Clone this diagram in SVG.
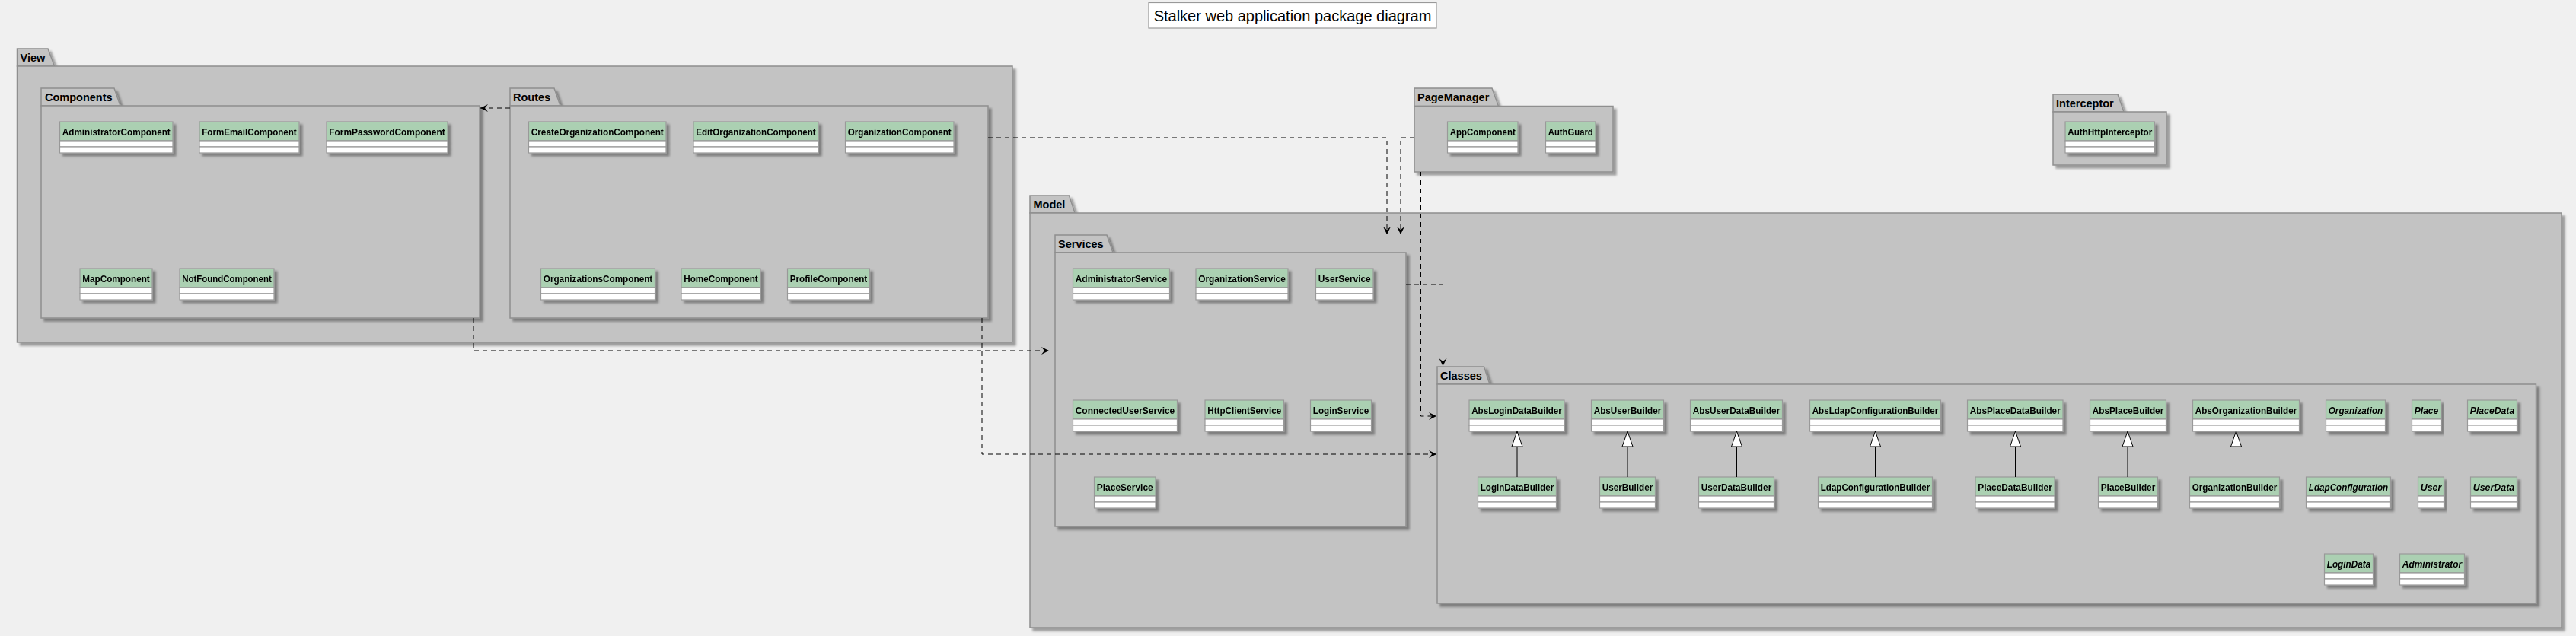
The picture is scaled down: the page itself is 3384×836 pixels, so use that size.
<svg xmlns="http://www.w3.org/2000/svg" width="3384" height="836" viewBox="0 0 3384 836">
<defs>
<filter id="sh" x="-5%" y="-5%" width="115%" height="125%">
<feDropShadow dx="4" dy="4" stdDeviation="1.8" flood-color="#000" flood-opacity="0.35"/>
</filter>
<marker id="arr" viewBox="0 0 10 10" refX="10" refY="5" markerWidth="10" markerHeight="10" markerUnits="userSpaceOnUse" orient="auto">
<path d="M0,0 L10,5 L0,10 L4,5 Z" fill="#000"/>
</marker>
<style>
.pk{fill:#C3C3C3;stroke:#8F8F8F;stroke-width:1.5}
.pl{font-family:"Liberation Sans",Arial,sans-serif;font-weight:bold;font-size:14.5px;fill:#000}
.hd{fill:#ABD0B2;stroke:#999;stroke-width:1.2}
.cp{fill:#FFF;stroke:#999;stroke-width:1.2}
.cn{font-family:"Liberation Sans",Arial,sans-serif;font-weight:bold;font-size:13px;text-anchor:middle;fill:#000}
.it{font-style:italic}
.dep{fill:none;stroke:#000;stroke-width:1;stroke-dasharray:6 5;marker-end:url(#arr)}
.inh{fill:none;stroke:#000;stroke-width:1}
.tri{fill:#FFF;stroke:#000;stroke-width:1}
</style>
</defs>
<rect x="0" y="0" width="3384" height="836" fill="#F0F0F0"/>
<g id="title">
<rect x="1509" y="3.5" width="378" height="33.5" fill="#FFF" stroke="#999" stroke-width="1.2"/>
<text x="1698" y="28" font-family="'Liberation Sans',Arial,sans-serif" font-size="20" text-anchor="middle">Stalker web application package diagram</text>
</g>
<g id="packages">
<g id="pkg-View"><path class="pk" filter="url(#sh)" d="M22.5,87 L22.5,64 L63,64 L71.5,87 Z"/><rect class="pk" filter="url(#sh)" x="22.5" y="87" width="1307.5" height="363"/><text class="pl" x="26.5" y="81">View</text></g>
<g id="pkg-Components"><path class="pk" filter="url(#sh)" d="M54,139 L54,116 L150,116 L158,139 Z"/><rect class="pk" filter="url(#sh)" x="54" y="139" width="576" height="279"/><text class="pl" x="59" y="133">Components</text></g>
<g id="pkg-Routes"><path class="pk" filter="url(#sh)" d="M670,139 L670,116 L728,116 L736,139 Z"/><rect class="pk" filter="url(#sh)" x="670" y="139" width="628" height="279"/><text class="pl" x="674" y="133">Routes</text></g>
<g id="pkg-PageManager"><path class="pk" filter="url(#sh)" d="M1858,139.5 L1858,116 L1960,116 L1968.5,139.5 Z"/><rect class="pk" filter="url(#sh)" x="1858" y="139.5" width="261" height="86.5"/><text class="pl" x="1862" y="133">PageManager</text></g>
<g id="pkg-Interceptor"><path class="pk" filter="url(#sh)" d="M2697,147 L2697,124 L2782,124 L2790,147 Z"/><rect class="pk" filter="url(#sh)" x="2697" y="147" width="149" height="70"/><text class="pl" x="2701" y="141">Interceptor</text></g>
<g id="pkg-Model"><path class="pk" filter="url(#sh)" d="M1353,280 L1353,257 L1404.5,257 L1412,280 Z"/><rect class="pk" filter="url(#sh)" x="1353" y="280" width="2012" height="545"/><text class="pl" x="1357.5" y="274">Model</text></g>
<g id="pkg-Services"><path class="pk" filter="url(#sh)" d="M1386,332 L1386,309 L1454,309 L1462,332 Z"/><rect class="pk" filter="url(#sh)" x="1386" y="332" width="461" height="360"/><text class="pl" x="1390" y="326">Services</text></g>
<g id="pkg-Classes"><path class="pk" filter="url(#sh)" d="M1888,505 L1888,482 L1949.5,482 L1957,505 Z"/><rect class="pk" filter="url(#sh)" x="1888" y="505" width="1443.5" height="288"/><text class="pl" x="1892" y="499">Classes</text></g>
</g>
<g id="classes">
<g id="AdministratorComponent" filter="url(#sh)"><rect class="hd" x="78.5" y="160" width="148.5" height="25"/><rect class="cp" x="78.5" y="185" width="148.5" height="8"/><rect class="cp" x="78.5" y="193" width="148.5" height="8"/><text class="cn" x="152.75" y="178" textLength="142" lengthAdjust="spacingAndGlyphs">AdministratorComponent</text></g>
<g id="FormEmailComponent" filter="url(#sh)"><rect class="hd" x="262" y="160" width="131" height="25"/><rect class="cp" x="262" y="185" width="131" height="8"/><rect class="cp" x="262" y="193" width="131" height="8"/><text class="cn" x="327.5" y="178" textLength="124.5" lengthAdjust="spacingAndGlyphs">FormEmailComponent</text></g>
<g id="FormPasswordComponent" filter="url(#sh)"><rect class="hd" x="429" y="160" width="159" height="25"/><rect class="cp" x="429" y="185" width="159" height="8"/><rect class="cp" x="429" y="193" width="159" height="8"/><text class="cn" x="508.5" y="178" textLength="152.5" lengthAdjust="spacingAndGlyphs">FormPasswordComponent</text></g>
<g id="MapComponent" filter="url(#sh)"><rect class="hd" x="105" y="353" width="95" height="25"/><rect class="cp" x="105" y="378" width="95" height="8"/><rect class="cp" x="105" y="386" width="95" height="8"/><text class="cn" x="152.5" y="371" textLength="88.5" lengthAdjust="spacingAndGlyphs">MapComponent</text></g>
<g id="NotFoundComponent" filter="url(#sh)"><rect class="hd" x="236" y="353" width="124" height="25"/><rect class="cp" x="236" y="378" width="124" height="8"/><rect class="cp" x="236" y="386" width="124" height="8"/><text class="cn" x="298" y="371" textLength="117.5" lengthAdjust="spacingAndGlyphs">NotFoundComponent</text></g>

<g id="CreateOrganizationComponent" filter="url(#sh)"><rect class="hd" x="694.5" y="160" width="180.5" height="25"/><rect class="cp" x="694.5" y="185" width="180.5" height="8"/><rect class="cp" x="694.5" y="193" width="180.5" height="8"/><text class="cn" x="784.75" y="178" textLength="174" lengthAdjust="spacingAndGlyphs">CreateOrganizationComponent</text></g>
<g id="EditOrganizationComponent" filter="url(#sh)"><rect class="hd" x="911" y="160" width="164" height="25"/><rect class="cp" x="911" y="185" width="164" height="8"/><rect class="cp" x="911" y="193" width="164" height="8"/><text class="cn" x="993" y="178" textLength="157.5" lengthAdjust="spacingAndGlyphs">EditOrganizationComponent</text></g>
<g id="OrganizationComponent" filter="url(#sh)"><rect class="hd" x="1110.5" y="160" width="142.5" height="25"/><rect class="cp" x="1110.5" y="185" width="142.5" height="8"/><rect class="cp" x="1110.5" y="193" width="142.5" height="8"/><text class="cn" x="1181.75" y="178" textLength="136" lengthAdjust="spacingAndGlyphs">OrganizationComponent</text></g>
<g id="OrganizationsComponent" filter="url(#sh)"><rect class="hd" x="710.5" y="353" width="150" height="25"/><rect class="cp" x="710.5" y="378" width="150" height="8"/><rect class="cp" x="710.5" y="386" width="150" height="8"/><text class="cn" x="785.5" y="371" textLength="143.5" lengthAdjust="spacingAndGlyphs">OrganizationsComponent</text></g>
<g id="HomeComponent" filter="url(#sh)"><rect class="hd" x="895" y="353" width="104" height="25"/><rect class="cp" x="895" y="378" width="104" height="8"/><rect class="cp" x="895" y="386" width="104" height="8"/><text class="cn" x="947" y="371" textLength="97.5" lengthAdjust="spacingAndGlyphs">HomeComponent</text></g>
<g id="ProfileComponent" filter="url(#sh)"><rect class="hd" x="1034.5" y="353" width="108" height="25"/><rect class="cp" x="1034.5" y="378" width="108" height="8"/><rect class="cp" x="1034.5" y="386" width="108" height="8"/><text class="cn" x="1088.5" y="371" textLength="101.5" lengthAdjust="spacingAndGlyphs">ProfileComponent</text></g>

<g id="AppComponent" filter="url(#sh)"><rect class="hd" x="1901.5" y="160" width="92.5" height="25"/><rect class="cp" x="1901.5" y="185" width="92.5" height="8"/><rect class="cp" x="1901.5" y="193" width="92.5" height="8"/><text class="cn" x="1947.75" y="178" textLength="86" lengthAdjust="spacingAndGlyphs">AppComponent</text></g>
<g id="AuthGuard" filter="url(#sh)"><rect class="hd" x="2030.5" y="160" width="65.5" height="25"/><rect class="cp" x="2030.5" y="185" width="65.5" height="8"/><rect class="cp" x="2030.5" y="193" width="65.5" height="8"/><text class="cn" x="2063.25" y="178" textLength="59" lengthAdjust="spacingAndGlyphs">AuthGuard</text></g>
<g id="AuthHttpInterceptor" filter="url(#sh)"><rect class="hd" x="2713" y="160" width="117.5" height="25"/><rect class="cp" x="2713" y="185" width="117.5" height="8"/><rect class="cp" x="2713" y="193" width="117.5" height="8"/><text class="cn" x="2771.75" y="178" textLength="111" lengthAdjust="spacingAndGlyphs">AuthHttpInterceptor</text></g>

<g id="AdministratorService" filter="url(#sh)"><rect class="hd" x="1409.5" y="353" width="127" height="25"/><rect class="cp" x="1409.5" y="378" width="127" height="8"/><rect class="cp" x="1409.5" y="386" width="127" height="8"/><text class="cn" x="1473" y="371" textLength="120.5" lengthAdjust="spacingAndGlyphs">AdministratorService</text></g>
<g id="OrganizationService" filter="url(#sh)"><rect class="hd" x="1571" y="353" width="121" height="25"/><rect class="cp" x="1571" y="378" width="121" height="8"/><rect class="cp" x="1571" y="386" width="121" height="8"/><text class="cn" x="1631.5" y="371" textLength="114.5" lengthAdjust="spacingAndGlyphs">OrganizationService</text></g>
<g id="UserService" filter="url(#sh)"><rect class="hd" x="1728.5" y="353" width="75.5" height="25"/><rect class="cp" x="1728.5" y="378" width="75.5" height="8"/><rect class="cp" x="1728.5" y="386" width="75.5" height="8"/><text class="cn" x="1766.25" y="371" textLength="69" lengthAdjust="spacingAndGlyphs">UserService</text></g>
<g id="ConnectedUserService" filter="url(#sh)"><rect class="hd" x="1409.5" y="526" width="137" height="25"/><rect class="cp" x="1409.5" y="551" width="137" height="8"/><rect class="cp" x="1409.5" y="559" width="137" height="8"/><text class="cn" x="1478" y="544" textLength="130.5" lengthAdjust="spacingAndGlyphs">ConnectedUserService</text></g>
<g id="HttpClientService" filter="url(#sh)"><rect class="hd" x="1583" y="526" width="103.5" height="25"/><rect class="cp" x="1583" y="551" width="103.5" height="8"/><rect class="cp" x="1583" y="559" width="103.5" height="8"/><text class="cn" x="1634.75" y="544" textLength="97" lengthAdjust="spacingAndGlyphs">HttpClientService</text></g>
<g id="LoginService" filter="url(#sh)"><rect class="hd" x="1721.5" y="526" width="80" height="25"/><rect class="cp" x="1721.5" y="551" width="80" height="8"/><rect class="cp" x="1721.5" y="559" width="80" height="8"/><text class="cn" x="1761.5" y="544" textLength="73.5" lengthAdjust="spacingAndGlyphs">LoginService</text></g>
<g id="PlaceService" filter="url(#sh)"><rect class="hd" x="1437.5" y="627" width="80.5" height="25"/><rect class="cp" x="1437.5" y="652" width="80.5" height="8"/><rect class="cp" x="1437.5" y="660" width="80.5" height="8"/><text class="cn" x="1477.75" y="645" textLength="74" lengthAdjust="spacingAndGlyphs">PlaceService</text></g>

<g id="AbsLoginDataBuilder" filter="url(#sh)"><rect class="hd" x="1930" y="526" width="125" height="25"/><rect class="cp" x="1930" y="551" width="125" height="8"/><rect class="cp" x="1930" y="559" width="125" height="8"/><text class="cn" x="1992.5" y="544" textLength="118.5" lengthAdjust="spacingAndGlyphs">AbsLoginDataBuilder</text></g>
<g id="AbsUserBuilder" filter="url(#sh)"><rect class="hd" x="2090.5" y="526" width="95" height="25"/><rect class="cp" x="2090.5" y="551" width="95" height="8"/><rect class="cp" x="2090.5" y="559" width="95" height="8"/><text class="cn" x="2138" y="544" textLength="88.5" lengthAdjust="spacingAndGlyphs">AbsUserBuilder</text></g>
<g id="AbsUserDataBuilder" filter="url(#sh)"><rect class="hd" x="2220.5" y="526" width="121" height="25"/><rect class="cp" x="2220.5" y="551" width="121" height="8"/><rect class="cp" x="2220.5" y="559" width="121" height="8"/><text class="cn" x="2281" y="544" textLength="114.5" lengthAdjust="spacingAndGlyphs">AbsUserDataBuilder</text></g>
<g id="AbsLdapConfigurationBuilder" filter="url(#sh)"><rect class="hd" x="2377.5" y="526" width="172" height="25"/><rect class="cp" x="2377.5" y="551" width="172" height="8"/><rect class="cp" x="2377.5" y="559" width="172" height="8"/><text class="cn" x="2463.5" y="544" textLength="165.5" lengthAdjust="spacingAndGlyphs">AbsLdapConfigurationBuilder</text></g>
<g id="AbsPlaceDataBuilder" filter="url(#sh)"><rect class="hd" x="2584.5" y="526" width="125.5" height="25"/><rect class="cp" x="2584.5" y="551" width="125.5" height="8"/><rect class="cp" x="2584.5" y="559" width="125.5" height="8"/><text class="cn" x="2647.25" y="544" textLength="119" lengthAdjust="spacingAndGlyphs">AbsPlaceDataBuilder</text></g>
<g id="AbsPlaceBuilder" filter="url(#sh)"><rect class="hd" x="2745.5" y="526" width="100" height="25"/><rect class="cp" x="2745.5" y="551" width="100" height="8"/><rect class="cp" x="2745.5" y="559" width="100" height="8"/><text class="cn" x="2795.5" y="544" textLength="93.5" lengthAdjust="spacingAndGlyphs">AbsPlaceBuilder</text></g>
<g id="AbsOrganizationBuilder" filter="url(#sh)"><rect class="hd" x="2880.5" y="526" width="140" height="25"/><rect class="cp" x="2880.5" y="551" width="140" height="8"/><rect class="cp" x="2880.5" y="559" width="140" height="8"/><text class="cn" x="2950.5" y="544" textLength="133.5" lengthAdjust="spacingAndGlyphs">AbsOrganizationBuilder</text></g>
<g id="Organization" filter="url(#sh)"><rect class="hd" x="3055.5" y="526" width="78" height="25"/><rect class="cp" x="3055.5" y="551" width="78" height="8"/><rect class="cp" x="3055.5" y="559" width="78" height="8"/><text class="cn it" x="3094.5" y="544" textLength="71.5" lengthAdjust="spacingAndGlyphs">Organization</text></g>
<g id="Place" filter="url(#sh)"><rect class="hd" x="3168.5" y="526" width="38" height="25"/><rect class="cp" x="3168.5" y="551" width="38" height="8"/><rect class="cp" x="3168.5" y="559" width="38" height="8"/><text class="cn it" x="3187.5" y="544" textLength="31.5" lengthAdjust="spacingAndGlyphs">Place</text></g>
<g id="PlaceData" filter="url(#sh)"><rect class="hd" x="3241.5" y="526" width="65" height="25"/><rect class="cp" x="3241.5" y="551" width="65" height="8"/><rect class="cp" x="3241.5" y="559" width="65" height="8"/><text class="cn it" x="3274" y="544" textLength="58.5" lengthAdjust="spacingAndGlyphs">PlaceData</text></g>

<g id="LoginDataBuilder" filter="url(#sh)"><rect class="hd" x="1941.5" y="627" width="103" height="25"/><rect class="cp" x="1941.5" y="652" width="103" height="8"/><rect class="cp" x="1941.5" y="660" width="103" height="8"/><text class="cn" x="1993" y="645" textLength="96.5" lengthAdjust="spacingAndGlyphs">LoginDataBuilder</text></g>
<g id="UserBuilder" filter="url(#sh)"><rect class="hd" x="2101.5" y="627" width="73" height="25"/><rect class="cp" x="2101.5" y="652" width="73" height="8"/><rect class="cp" x="2101.5" y="660" width="73" height="8"/><text class="cn" x="2138" y="645" textLength="66.5" lengthAdjust="spacingAndGlyphs">UserBuilder</text></g>
<g id="UserDataBuilder" filter="url(#sh)"><rect class="hd" x="2231.5" y="627" width="99" height="25"/><rect class="cp" x="2231.5" y="652" width="99" height="8"/><rect class="cp" x="2231.5" y="660" width="99" height="8"/><text class="cn" x="2281" y="645" textLength="92.5" lengthAdjust="spacingAndGlyphs">UserDataBuilder</text></g>
<g id="LdapConfigurationBuilder" filter="url(#sh)"><rect class="hd" x="2388.5" y="627" width="150" height="25"/><rect class="cp" x="2388.5" y="652" width="150" height="8"/><rect class="cp" x="2388.5" y="660" width="150" height="8"/><text class="cn" x="2463.5" y="645" textLength="143.5" lengthAdjust="spacingAndGlyphs">LdapConfigurationBuilder</text></g>
<g id="PlaceDataBuilder" filter="url(#sh)"><rect class="hd" x="2595" y="627" width="104" height="25"/><rect class="cp" x="2595" y="652" width="104" height="8"/><rect class="cp" x="2595" y="660" width="104" height="8"/><text class="cn" x="2647" y="645" textLength="97.5" lengthAdjust="spacingAndGlyphs">PlaceDataBuilder</text></g>
<g id="PlaceBuilder" filter="url(#sh)"><rect class="hd" x="2756.5" y="627" width="78" height="25"/><rect class="cp" x="2756.5" y="652" width="78" height="8"/><rect class="cp" x="2756.5" y="660" width="78" height="8"/><text class="cn" x="2795.5" y="645" textLength="71.5" lengthAdjust="spacingAndGlyphs">PlaceBuilder</text></g>
<g id="OrganizationBuilder" filter="url(#sh)"><rect class="hd" x="2876.5" y="627" width="118" height="25"/><rect class="cp" x="2876.5" y="652" width="118" height="8"/><rect class="cp" x="2876.5" y="660" width="118" height="8"/><text class="cn" x="2935.5" y="645" textLength="111.5" lengthAdjust="spacingAndGlyphs">OrganizationBuilder</text></g>
<g id="LdapConfiguration" filter="url(#sh)"><rect class="hd" x="3029.5" y="627" width="111" height="25"/><rect class="cp" x="3029.5" y="652" width="111" height="8"/><rect class="cp" x="3029.5" y="660" width="111" height="8"/><text class="cn it" x="3085" y="645" textLength="104.5" lengthAdjust="spacingAndGlyphs">LdapConfiguration</text></g>
<g id="User" filter="url(#sh)"><rect class="hd" x="3176.5" y="627" width="34" height="25"/><rect class="cp" x="3176.5" y="652" width="34" height="8"/><rect class="cp" x="3176.5" y="660" width="34" height="8"/><text class="cn it" x="3193.5" y="645" textLength="27.5" lengthAdjust="spacingAndGlyphs">User</text></g>
<g id="UserData" filter="url(#sh)"><rect class="hd" x="3245.5" y="627" width="61" height="25"/><rect class="cp" x="3245.5" y="652" width="61" height="8"/><rect class="cp" x="3245.5" y="660" width="61" height="8"/><text class="cn it" x="3276" y="645" textLength="54.5" lengthAdjust="spacingAndGlyphs">UserData</text></g>

<g id="LoginData" filter="url(#sh)"><rect class="hd" x="3053.5" y="728" width="64" height="25"/><rect class="cp" x="3053.5" y="753" width="64" height="8"/><rect class="cp" x="3053.5" y="761" width="64" height="8"/><text class="cn it" x="3085.5" y="746" textLength="57.5" lengthAdjust="spacingAndGlyphs">LoginData</text></g>
<g id="Administrator" filter="url(#sh)"><rect class="hd" x="3152.5" y="728" width="85" height="25"/><rect class="cp" x="3152.5" y="753" width="85" height="8"/><rect class="cp" x="3152.5" y="761" width="85" height="8"/><text class="cn it" x="3195" y="746" textLength="78.5" lengthAdjust="spacingAndGlyphs">Administrator</text></g>
</g>
<g id="connectors">
<path class="dep" d="M670,142 L631,142"/>
<path class="dep" d="M622,418 L622,461 L1378,461"/>
<path class="dep" d="M1298,181 L1822,181 L1822,308"/>
<path class="dep" d="M1858,181 L1840,181 L1840,308"/>
<path class="dep" d="M1866.5,226 L1866.5,547 L1887,547"/>
<path class="dep" d="M1847,374 L1895.5,374 L1895.5,481"/>
<path class="dep" d="M1290,418 L1290,597 L1887,597"/>
<g id="inheritance">
<path class="inh" d="M1993,587 L1993,627 M2138,587 L2138,627 M2281.5,587 L2281.5,627 M2463.5,587 L2463.5,627 M2647.5,587 L2647.5,627 M2795,587 L2795,627 M2937.5,587 L2937.5,627"/>
<polygon class="tri" points="1993,567 1986,587 2000,587"/>
<polygon class="tri" points="2138,567 2131,587 2145,587"/>
<polygon class="tri" points="2281.5,567 2274.5,587 2288.5,587"/>
<polygon class="tri" points="2463.5,567 2456.5,587 2470.5,587"/>
<polygon class="tri" points="2647.5,567 2640.5,587 2654.5,587"/>
<polygon class="tri" points="2795,567 2788,587 2802,587"/>
<polygon class="tri" points="2937.5,567 2930.5,587 2944.5,587"/>
</g>
</g>
</svg>
